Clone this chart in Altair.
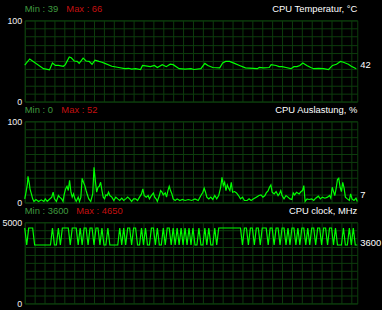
import altair as alt
import pandas as pd

# ---------------- data ----------------
titles = ["CPU Temperatur, °C", "CPU Auslastung, %", "CPU clock, MHz"]
mins = [39, 0, 3600]
maxs = [66, 52, 4650]
currents = [42, 7, 3600]
ymax = [100, 100, 5000]

temp_t = [0, 5, 19, 25, 28, 31, 34, 39, 41, 45, 47, 50, 53, 55, 59, 62, 65, 68, 71, 75,
          78, 81, 88, 95, 101, 105, 108, 112, 117, 119, 127, 131, 134, 139, 143, 147, 150, 156, 162, 168,
          171, 178, 182, 185, 190, 197, 200, 203, 207, 212, 217, 223, 235, 237, 241, 247, 249, 254, 257, 260,
          264, 269, 272, 275, 278, 281, 285, 289, 292, 297, 302, 307, 311, 315, 319, 322, 327, 330, 335]
temp_v = [45, 52.5, 40.5, 39, 47.5, 44.5, 44.5, 43.5, 45.5, 55, 54, 50, 49.5, 47, 53.5, 50, 49.5, 46, 51, 49.5,
          48.5, 47, 43.5, 42, 40.5, 41, 40, 40.5, 39.5, 44.5, 43, 44.5, 42, 45.5, 43, 46, 45.5, 40.5, 40, 40.5,
          39.5, 40.5, 47, 44.5, 42, 41.5, 47.5, 49.5, 49.5, 47, 44.5, 41.5, 40.5, 42, 41.5, 42, 45.5, 44.5, 43, 43,
          42, 40.5, 43, 43, 44.5, 47.5, 44.5, 42, 40.5, 41, 40.5, 39.5, 44.5, 46, 49.5, 48.5, 46, 43.5, 40.5]

load_t = [0, 1.3, 2.7, 3.3, 4.7, 5.3, 6.7, 8, 9.3, 11.3, 14, 16.7, 19.3, 20.7, 22.7, 24.7, 27.3, 28.7, 30, 32,
          34, 35.3, 37.3, 38.7, 40, 41.3, 42.7, 44, 45.3, 46.7, 48, 49.3, 50.7, 52, 54, 55.3, 56.7, 58, 59.3, 60.7,
          62, 63.3, 64.7, 66.7, 68.7, 70, 71.3, 72.7, 74, 75.3, 76.7, 78, 79.3, 80.7, 82, 83.3, 84.7, 86, 88, 90,
          92, 94, 96, 98, 100, 102, 104, 106, 108, 110, 112, 114, 116, 118, 119.3, 120.7, 122.7, 124.7, 126, 128,
          130, 131.3, 132.7, 134, 136, 137.3, 138.7, 140, 142, 143.3, 144.7, 146, 147.3, 148.7, 150, 152, 154, 156.7, 159.3, 162,
          165.3, 168.7, 172, 175.3, 178, 180, 181.3, 182.7, 184, 186, 188, 190, 192, 194, 196, 198, 199.3, 200.7, 202, 203.3,
          204.7, 206, 207.3, 208.7, 210, 212, 214, 216, 218, 220, 222, 224.7, 226.7, 228.7, 231.3, 234, 236.7, 238.7, 240.7, 242.7,
          244, 246, 247.3, 248.7, 250, 252, 254, 256, 257.3, 258.7, 260, 262, 264, 266, 268, 270, 271.3, 272.7, 274.7, 277.3,
          279.3, 280.7, 282, 283.3, 285.3, 287.3, 290, 292, 294, 296.7, 298.7, 300.7, 303.3, 306, 308, 309.3, 310.7, 312, 313.3, 314.7,
          316, 317.3, 318.7, 320, 321.3, 322.7, 324, 326, 328, 329.3, 330.7, 332.7, 334.7, 336]
load_v = [4.5, 12.7, 22.9, 32.3, 22.9, 16.8, 10.6, 4.5, 1.3, 3.7, 1.3, 3.3, 1.3, 4.5, 1.3, 3.7, 6.6, 12.7, 4.5, 1.3,
          8.6, 6.6, 4.5, 1.3, 10.6, 16.8, 20, 14.8, 27.4, 12.7, 6.6, 10.6, 4.5, 1.3, 6.6, 1.3, 6.6, 29.8, 24.9, 20.8,
          14.8, 9.5, 4.5, 1.3, 10.6, 43.3, 26.9, 12.7, 18.8, 20, 24.9, 14.8, 6.6, 4.5, 9.5, 8.6, 12.7, 8.6, 6.6, 2.5,
          6.6, 4.5, 2.5, 5.3, 2.5, 4.5, 6.6, 4.5, 1.3, 4.5, 4.5, 2.5, 6.6, 10.6, 16.8, 8.6, 6.6, 8.6, 4.5, 8.6,
          11.8, 6.6, 4.5, 1.3, 8.6, 14.7, 12.7, 9.4, 11.8, 6.6, 14.7, 20, 14.7, 10.6, 4.5, 2.5, 4.5, 2.5, 3.7, 2.5,
          3.7, 2.5, 4.5, 2.5, 8.6, 12.7, 17.6, 12.7, 6.6, 4.5, 6.6, 3.7, 8.6, 4.5, 8.6, 18.8, 31.1, 20.8, 24.9, 14.7,
          21.6, 17.6, 14.7, 24.9, 12.7, 13.5, 11.8, 8.6, 4.5, 6.6, 2.5, 2.5, 4.5, 2.5, 4.5, 6.6, 8.6, 9.4, 6.6, 8.6,
          11.8, 14.7, 18.8, 21.6, 12.7, 10.6, 13.5, 8.6, 10.6, 14.7, 8.6, 4.5, 8.6, 6.6, 4.5, 3.7, 11.8, 9.4, 12.7, 10.6,
          13.5, 14.7, 20.8, 1.3, 4.5, 3.7, 4.5, 2.5, 5.3, 7.8, 4.5, 6.6, 5.3, 6.6, 8.6, 5.3, 18.8, 13.5, 8.6, 17.6,
          28.2, 29.8, 18.8, 13.5, 24.9, 17.6, 6.6, 4.5, 2.5, 10.6, 4.5, 2.5, 5.3, 1.3]

HI, LO = 4650, 3600
clock_mhz = [HI, LO, HI, HI, HI,
             LO, LO, LO, LO, LO, LO, LO, LO, LO,
             HI, LO, LO, HI, LO, HI, HI, HI, HI, LO, HI, HI, HI, LO, HI, LO, HI, HI, LO, HI, HI, LO, HI, HI, LO,
             HI, LO, LO, HI, LO, LO, LO, LO, LO, HI,
             LO, HI, LO, HI, HI, LO, HI, HI, LO, LO,
             HI, LO, HI, LO, LO, HI, HI, LO, HI, LO,
             LO, HI, LO, HI, HI, LO, HI, LO, HI, LO,
             HI, LO, HI, LO, HI, LO, HI, LO, LO, HI,
             LO, LO, HI, LO, HI, LO, LO, HI, LO, HI,
             HI, HI, HI, HI, HI, HI, HI, HI, HI, HI,
             HI, LO, HI, HI, LO, HI, HI, LO, HI, HI,
             LO, HI, HI, HI, LO, HI, HI, LO, HI, HI,
             LO, HI, HI, LO, HI, LO, HI, HI, LO, HI,
             LO, HI, HI, LO, HI, LO, HI, HI, LO, HI,
             HI, LO, HI, HI, LO, HI, HI, LO, HI, LO,
             LO, LO, HI, LO, LO, HI, LO, HI, LO, LO]
clock_t = [2 * i for i in range(len(clock_mhz))]

# ---------------- style ----------------
FONT = "Liberation Sans"
GRID = "#0d3d0d"
LINE = "#00ff00"
MINC = "#3f9a3f"
MAXC = "#c41010"
W, H = 336, 82
MAX_X = [42, 37, 52]   # left edge of the "Max" text in each panel


def panel(t, v, k):
    top = ymax[k]
    df = pd.DataFrame({"t": t, "v": v})
    x = alt.X("t:Q", scale=alt.Scale(domain=[0, W], nice=False, zero=False),
              axis=alt.Axis(values=list(range(0, W, 10)), labels=False, ticks=False, domain=False,
                            grid=True, gridColor=GRID, gridWidth=1, gridOpacity=1, title=None))
    y = alt.Y("v:Q", scale=alt.Scale(domain=[0, top], nice=False),
              axis=alt.Axis(values=[top * i / 10 for i in range(11)], format="d",
                            labelExpr=f"datum.value == 0 || datum.value == {top} ? datum.label : ''",
                            ticks=False, domain=False, grid=True, gridColor=GRID, gridWidth=1, gridOpacity=1,
                            labelColor="#f0f0f0", labelFont=FONT, labelFontSize=9, labelPadding=3,
                            labelOverlap=False, title=None))
    line = alt.Chart(df).mark_line(color=LINE, strokeWidth=1.2).encode(x=x, y=y)

    info = pd.DataFrame({"mn": [f"Min : {mins[k]}"], "mx": [f"Max : {maxs[k]}"], "ttl": [titles[k]]})
    mn = alt.Chart(info).mark_text(align="left", baseline="middle", color=MINC, font=FONT, fontSize=9.5).encode(
        x=alt.value(0), y=alt.value(-11), text="mn:N")
    mx = alt.Chart(info).mark_text(align="left", baseline="middle", color=MAXC, font=FONT, fontSize=9.5).encode(
        x=alt.value(MAX_X[k]), y=alt.value(-11), text="mx:N")
    ttl = alt.Chart(info).mark_text(align="right", baseline="middle", color="#ffffff", font=FONT, fontSize=9.5).encode(
        x=alt.value(W), y=alt.value(-11), text="ttl:N")

    cur = pd.DataFrame({"t": [W], "v": [currents[k]]})
    cur_txt = alt.Chart(cur).mark_text(align="left", baseline="middle", color="#ffffff", font=FONT,
                                       fontSize=9.5, dx=3, dy=-2).encode(x=x, y=y, text="v:Q")

    return alt.layer(line, mn, mx, ttl, cur_txt).properties(width=W, height=H)


chart = alt.vconcat(
    panel(temp_t, temp_v, 0),
    panel(load_t, load_v, 1),
    panel(clock_t, clock_mhz, 2),
    spacing=20, bounds="flush",
).properties(
    padding={"left": 1, "top": 2, "right": 0, "bottom": 0}
).configure(background="#000000").configure_view(stroke=GRID, strokeWidth=1)

chart.save("out.html", embed_options={"renderer": "svg", "actions": False})
